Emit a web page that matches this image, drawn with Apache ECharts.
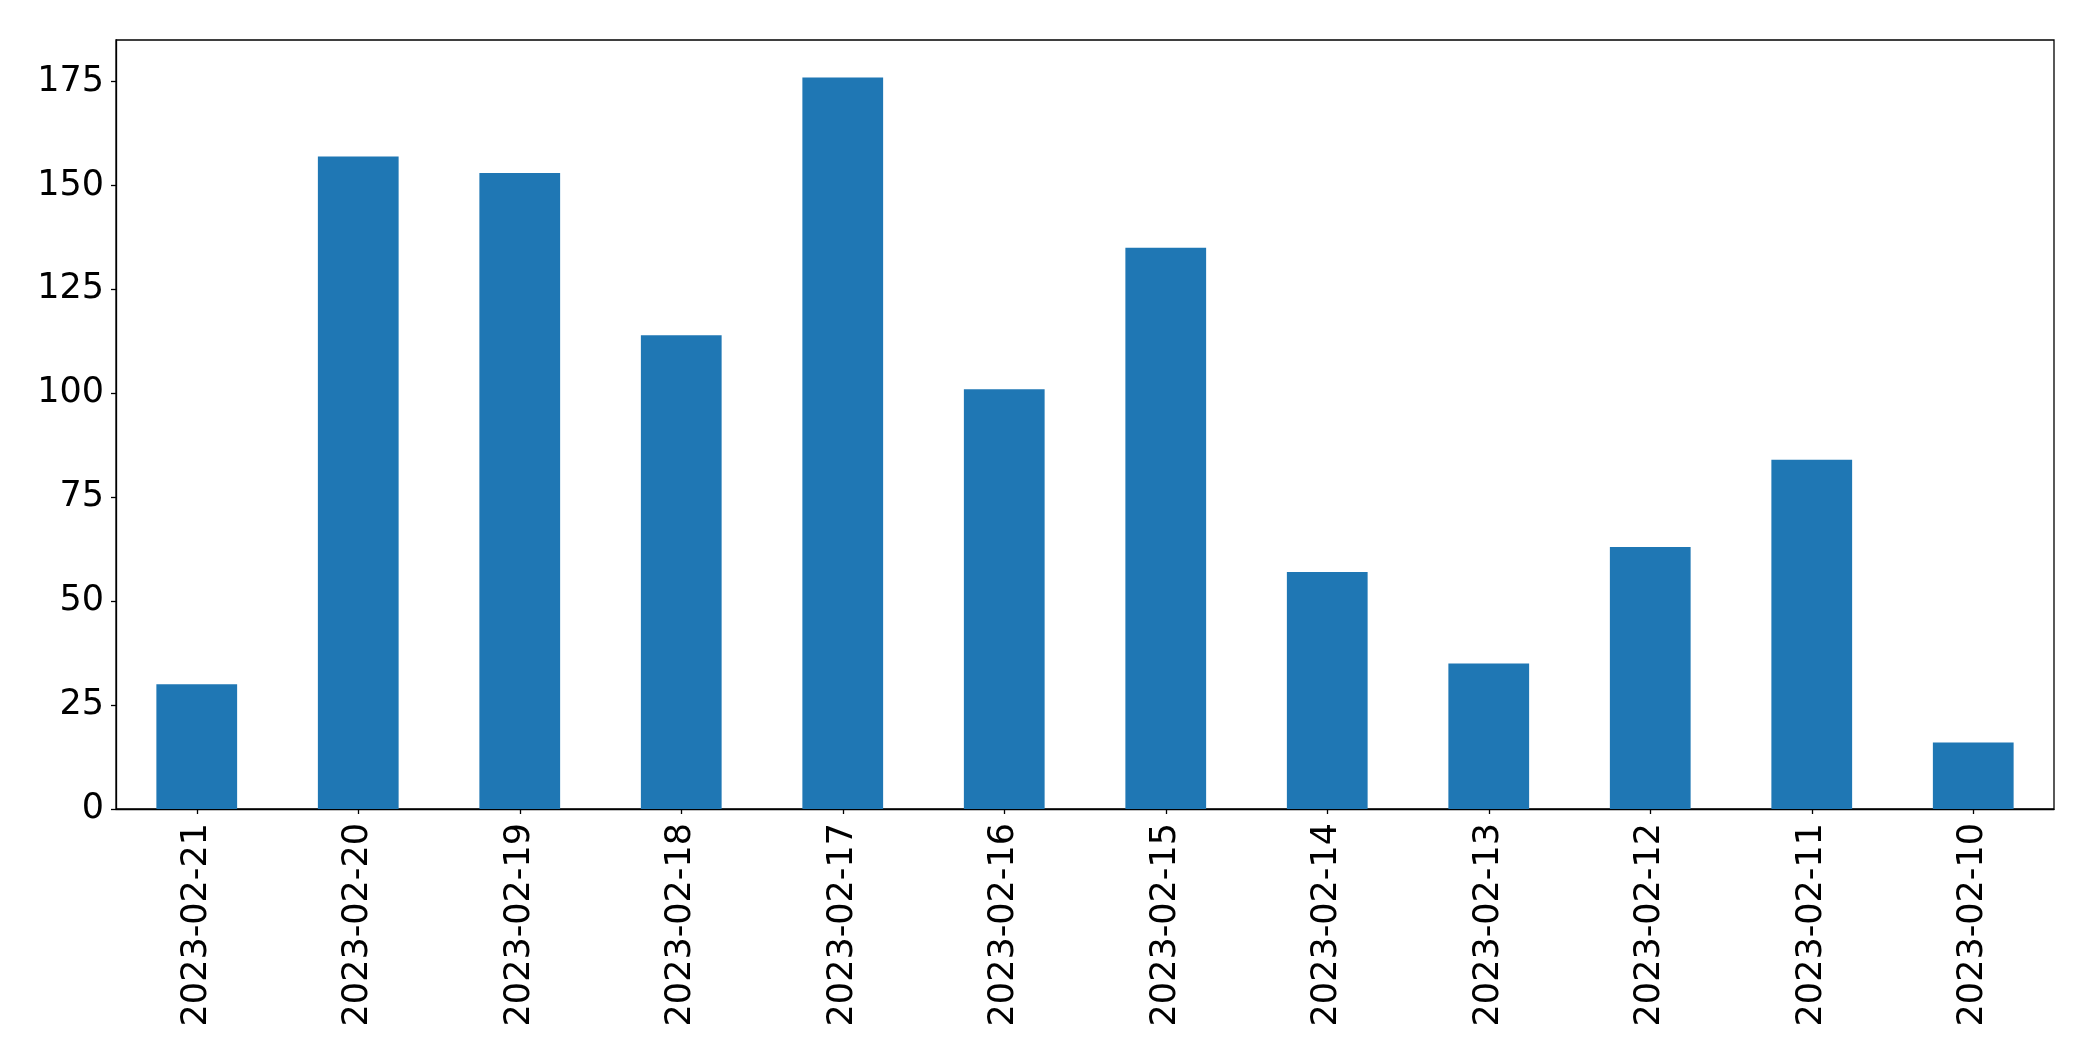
<!DOCTYPE html>
<html>
<head>
<meta charset="utf-8">
<script src="https://cdn.jsdelivr.net/npm/echarts@6/dist/echarts.min.js"></script>
<style>
html,body{margin:0;padding:0;background:#fff;}
#chart{width:2093px;height:1061px;}
</style>
</head>
<body>
<div id="chart"></div>
<script>
const categories = ["2023-02-21","2023-02-20","2023-02-19","2023-02-18","2023-02-17","2023-02-16","2023-02-15","2023-02-14","2023-02-13","2023-02-12","2023-02-11","2023-02-10"];
const values = [30,157,153,114,176,101,135,57,35,63,84,16];
const yTicks = [0,25,50,75,100,125,150,175];

const chart = echarts.init(document.getElementById('chart'), null, {renderer:'canvas'});
const font = 'DejaVu Sans';
chart.setOption({
  animation:false,
  backgroundColor:'#ffffff',
  grid:{left:116,right:39,top:40,bottom:252,show:true,borderColor:'#000',borderWidth:1.3,backgroundColor:'transparent'},
  xAxis:{
    type:'category',
    data:categories,
    boundaryGap:true,
    axisLine:{show:true,lineStyle:{color:'#000',width:1.3}},
    axisTick:{show:true,alignWithLabel:true,length:5,lineStyle:{color:'#000',width:1.3}},
    axisLabel:{rotate:90,margin:14,color:'#000',fontSize:35,fontFamily:font,interval:0},
    splitLine:{show:false}
  },
  yAxis:{
    type:'value',
    min:0,max:185,interval:25,
    axisLine:{show:true,lineStyle:{color:'#000',width:1.3}},
    axisTick:{show:true,length:5,lineStyle:{color:'#000',width:1.3},customValues:yTicks},
    axisLabel:{color:'#000',fontSize:35,fontFamily:font,margin:12,customValues:yTicks},
    splitLine:{show:false}
  },
  series:[{
    type:'bar',
    data:values,
    barWidth:'50%',
    itemStyle:{color:'#1f77b4'}
  }]
});
</script>
</body>
</html>
